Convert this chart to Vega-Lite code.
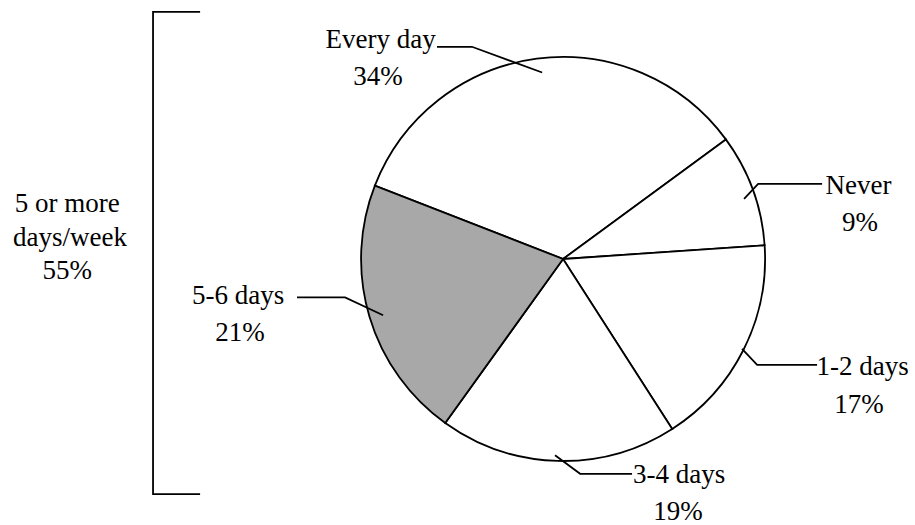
{
  "$schema": "https://vega.github.io/schema/vega-lite/v6.json",
  "width": 915,
  "height": 525,
  "padding": 0,
  "autosize": {"type": "fit", "contains": "padding"},
  "background": "white",
  "config": {"view": {"stroke": null}},
  "datasets": {
    "shares": [
      {"category": "Every day", "pct": 34},
      {"category": "Never", "pct": 9},
      {"category": "1-2 days", "pct": 17},
      {"category": "3-4 days", "pct": 19},
      {"category": "5-6 days", "pct": 21}
    ],
    "labels": [
      {"label": "Every day", "u": -90.7, "v": 105.2},
      {"label": "34%", "u": -92.0, "v": 86.9},
      {"label": "Never", "u": 146.9, "v": 32.4},
      {"label": "9%", "u": 147.7, "v": 14.1},
      {"label": "1-2 days", "u": 148.9, "v": -57.7},
      {"label": "17%", "u": 147.2, "v": -76.5},
      {"label": "3-4 days", "u": 57.7, "v": -111.7},
      {"label": "19%", "u": 57.2, "v": -130.0},
      {"label": "5-6 days", "u": -161.6, "v": -22.5},
      {"label": "21%", "u": -160.6, "v": -40.9},
      {"label": "5 or more", "u": -246.6, "v": 23.5},
      {"label": "days/week", "u": -245.2, "v": 6.5},
      {"label": "55%", "u": -246.6, "v": -10.0}
    ],
    "guides": [
      {"g": "every", "s": 1, "u": -62.7, "v": 105.7},
      {"g": "every", "s": 2, "u": -45.3, "v": 105.7},
      {"g": "every", "s": 3, "u": -10.4, "v": 92.9},
      {"g": "never", "s": 1, "u": 128.8, "v": 37.4},
      {"g": "never", "s": 2, "u": 97.0, "v": 37.4},
      {"g": "never", "s": 3, "u": 90.0, "v": 30.0},
      {"g": "d12", "s": 1, "u": 126.3, "v": -52.7},
      {"g": "d12", "s": 2, "u": 96.5, "v": -52.7},
      {"g": "d12", "s": 3, "u": 89.0, "v": -44.8},
      {"g": "d34", "s": 1, "u": 34.3, "v": -107.0},
      {"g": "d34", "s": 2, "u": 8.5, "v": -107.0},
      {"g": "d34", "s": 3, "u": -4.0, "v": -97.8},
      {"g": "d56", "s": 1, "u": -132.3, "v": -19.1},
      {"g": "d56", "s": 2, "u": -108.4, "v": -19.1},
      {"g": "d56", "s": 3, "u": -89.5, "v": -28.0},
      {"g": "bracket", "s": 1, "u": -180.5, "v": 123.1},
      {"g": "bracket", "s": 2, "u": -203.9, "v": 123.1},
      {"g": "bracket", "s": 3, "u": -203.9, "v": -117.1},
      {"g": "bracket", "s": 4, "u": -180.5, "v": -117.1}
    ]
  },
  "layer": [
    {
      "data": {"name": "shares"},
      "mark": {"type": "arc", "outerRadius": 202, "stroke": "black", "strokeWidth": 1.8},
      "encoding": {
        "x": {"datum": 0, "type": "quantitative", "scale": {"domain": [-280, 175], "nice": false, "zero": false}, "axis": null},
        "y": {"datum": 0, "type": "quantitative", "scale": {"domain": [-131, 129], "nice": false, "zero": false}, "axis": null},
        "theta": {"field": "pct", "type": "quantitative", "stack": true, "scale": {"range": [-1.199, 5.084]}},
        "fill": {"condition": {"test": "datum.category === '5-6 days'", "value": "#a8a8a8"}, "value": "white"}
      }
    },
    {
      "data": {"name": "guides"},
      "mark": {"type": "line", "color": "black", "strokeWidth": 1.8},
      "encoding": {
        "x": {"field": "u", "type": "quantitative", "scale": {"domain": [-280, 175], "nice": false, "zero": false}, "axis": null},
        "y": {"field": "v", "type": "quantitative", "scale": {"domain": [-131, 129], "nice": false, "zero": false}, "axis": null},
        "detail": {"field": "g"},
        "order": {"field": "s", "type": "quantitative"}
      }
    },
    {
      "data": {"name": "labels"},
      "mark": {"type": "text", "font": "Liberation Serif", "fontSize": 27, "color": "black", "align": "center", "baseline": "alphabetic"},
      "encoding": {
        "x": {"field": "u", "type": "quantitative", "scale": {"domain": [-280, 175], "nice": false, "zero": false}, "axis": null},
        "y": {"field": "v", "type": "quantitative", "scale": {"domain": [-131, 129], "nice": false, "zero": false}, "axis": null},
        "text": {"field": "label"}
      }
    }
  ]
}
